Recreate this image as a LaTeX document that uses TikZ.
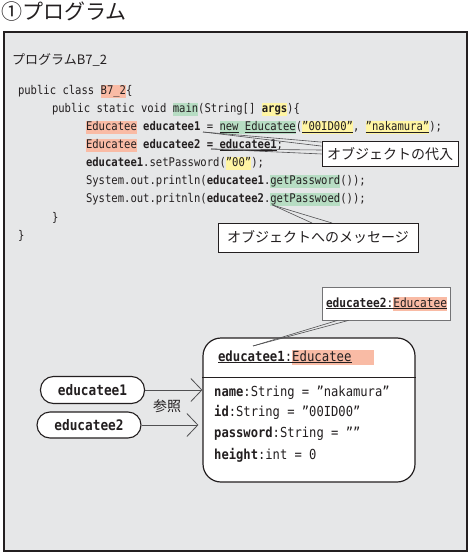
\documentclass[tikz,border=0pt]{standalone}
\usepackage{fontspec}
\usetikzlibrary{arrows.meta,calc}
\setmainfont{Noto Sans CJK JP}
\newfontfamily\jpfont{Noto Sans CJK JP}
\newfontfamily\codefont{DejaVu Sans Mono}[FakeStretch=0.88]
\definecolor{panel}{HTML}{E6E7E8}
\definecolor{ink}{HTML}{231F20}
\definecolor{hlred}{HTML}{F9BBA5}
\definecolor{hlgreen}{HTML}{B7DDC3}
\definecolor{hlyellow}{HTML}{FFF5A3}
\definecolor{wire}{HTML}{505052}
% one blank of code width
\newcommand\cblank{\hphantom{0}}
\tikzset{
  cp/.style={inner sep=0pt, outer sep=0pt, anchor=base west, text=ink,
    font=\codefont\fontsize{12}{14}\selectfont, text height=9.5pt, text depth=3pt},
  cpsmall/.style={cp, font=\codefont\fontsize{12.7}{15}\selectfont, text height=10pt, text depth=3.5pt},
  cpbig/.style={cp, font=\codefont\fontsize{14}{16}\selectfont, text height=11.5pt, text depth=4pt},
  hlr/.style={fill=hlred}, hlg/.style={fill=hlgreen}, hly/.style={fill=hlyellow},
  attr/.style={inner sep=0pt, anchor=base west, text=ink,
    font=\codefont\fontsize{13.8}{16}\selectfont},
  callout/.style={draw=ink, line width=0.8pt, fill=white, inner sep=0pt, text=ink,
    font=\jpfont\fontsize{14}{16}\selectfont},
  tail/.style={draw=wire, line width=0.6pt},
  pill/.style={draw=ink, line width=1.1pt, fill=white, rounded corners=13pt, inner sep=0pt,
    text=ink, font=\codefont\bfseries\fontsize{14.5}{16}\selectfont},
  refarrow/.style={draw=wire, line width=0.8pt, -{Straight Barb[length=11pt,width=23pt]}},
}
\begin{document}
\begin{tikzpicture}[x=1pt,y=-1pt]
\useasboundingbox (0,0) rectangle (469,553);

% heading and panel
\node[anchor=base west, inner sep=0pt, text=ink, font=\jpfont\fontsize{21}{24}\selectfont]
  (title) at (1,20) {①プログラム};
\draw[draw=ink, fill=panel, line width=1.1pt] (4,32) rectangle (467,551);
\node[anchor=base west, inner sep=0pt, text=ink, font=\jpfont\fontsize{13}{15}\selectfont]
  (plabel) at (12,65) {プログラムB7\_2};

% source listing
\node[cp] (l1a) at (18,95) {public class\cblank};
\node[cp,hlr] (l1b) at (l1a.base east) {B7\_2};
\node[cp] (l1c) at (l1b.base east) {\{};

\node[cp] (l2a) at (52,113) {public static void\cblank};
\node[cp,hlg] (l2b) at (l2a.base east) {main};
\node[cp] (l2c) at (l2b.base east) {(String[]\cblank};
\node[cp,hly] (l2d) at (l2c.base east) {\textbf{args}};
\node[cp] (l2e) at (l2d.base east) {)\{};

\node[cp,hlr] (l3a) at (86,131) {Educatee};
\node[cp] (l3b) at (l3a.base east) {\cblank\textbf{educatee1}\cblank=\cblank};
\node[cp,hlg] (l3c) at (l3b.base east) {\underline{new}\cblank\underline{Educatee}};
\node[cp] (l3d) at (l3c.base east) {(};
\node[cp,hly] (l3e) at (l3d.base east) {\underline{”00ID00”}};
\node[cp] (l3f) at (l3e.base east) {,\cblank};
\node[cp,hly] (l3g) at (l3f.base east) {\underline{”nakamura”}};
\node[cp] (l3h) at (l3g.base east) {);};

\node[cp,hlr] (l4a) at (86,149) {Educatee};
\node[cp] (l4b) at (l4a.base east) {\cblank\textbf{educatee2\cblank=\cblank\underline{educatee1}};};

\node[cp] (l5a) at (86,167) {\textbf{educatee1}.setPassword(};
\node[cp,hly] (l5b) at (l5a.base east) {”00”};
\node[cp] (l5c) at (l5b.base east) {);};

\node[cp] (l6a) at (86,185) {System.out.println(\textbf{educatee1}.};
\node[cp,hlg] (l6b) at (l6a.base east) {getPassword};
\node[cp] (l6c) at (l6b.base east) {());};

\node[cp] (l7a) at (86,203) {System.out.pritnln(\textbf{educatee2}.};
\node[cp,hlg] (l7b) at (l7a.base east) {getPasswoed};
\node[cp] (l7c) at (l7b.base east) {());};

\node[cp] (l8) at (52,221) {\}};
\node[cp] (l9) at (18,239) {\}};

% callout: assignment
\coordinate (tipA) at (203,132);
\coordinate (tipB) at (211,149);
\node[callout, minimum width=136pt, minimum height=25pt] (c1) at (390,154) {};
\draw[tail] (tipA) -- ($(c1.north west)+(0,1)$);
\draw[tail] (tipA) -- ($(c1.north west)+(0,5)$);
\draw[tail] (tipB) -- ($(c1.west)+(0,-4)$);
\draw[tail] (tipB) -- (c1.west);
\node[callout, minimum width=136pt, minimum height=25pt] at (c1) {オブジェクトの代入};

% callout: message
\coordinate (tipC) at ($(l7b.base west)+(2,2)$);
\draw[tail] (tipC) -- (312,223);
\draw[tail] (tipC) -- (332,223);
\node[callout, minimum width=200pt, minimum height=29pt] (c2) at (318,237.5) {オブジェクトへのメッセージ};

% object diagram
\node[draw=ink, line width=1.2pt, fill=white, rounded corners=18pt,
  minimum width=212pt, minimum height=144pt] (obj) at (309,410) {};
\draw[ink, line width=1pt] (obj.west |- 0,377) -- (obj.east |- 0,377);

\node[cpbig] (o1) at (218,361) {\underline{\textbf{educatee1}}};
\node[cpbig] (o2) at (o1.base east) {\underline{:}};
\node[cpbig, hlr, text width=82pt, align=left] (o3) at (o2.base east) {\underline{Educatee}};

\node[attr] (a1) at (214,396) {\textbf{name}:String = ”nakamura”};
\node[attr] (a2) at (214,416) {\textbf{id}:String = ”00ID00”};
\node[attr] (a3) at (214,437) {\textbf{password}:String = ””};
\node[attr] (a4) at (214,459) {\textbf{height}:int = 0};

\node[draw=wire!80, line width=0.8pt, fill=white, minimum width=128pt, minimum height=33pt]
  (e2box) at (386.5,303.5) {};
\node[cpsmall] (e2n) at (326,307) {\underline{\textbf{educatee2}}};
\node[cpsmall] (e2c) at (e2n.base east) {\underline{:}};
\node[cpsmall, hlr] (e2t) at (e2c.base east) {\underline{Educatee}};

\coordinate (tipO) at (253,346);
\draw[tail] ($(e2box.south)+(-49,0)$) -- (tipO);
\draw[tail] ($(e2box.south)+(-38,0)$) -- (tipO);

% references
\node[pill, minimum width=104pt, minimum height=27pt] (p1) at (92.5,390) {educatee1};
\node[pill, minimum width=104pt, minimum height=26pt] (p2) at (89,425) {educatee2};
\draw[refarrow] (p1.east) -- (p1.east -| obj.west);
\draw[refarrow] (p2.east) -- ($(p2.east -| obj.west)+(-4,0)$);
\node[inner sep=0pt, text=ink, font=\jpfont\fontsize{14}{16}\selectfont] (sansho) at (167,406) {参照};
\end{tikzpicture}
\end{document}
